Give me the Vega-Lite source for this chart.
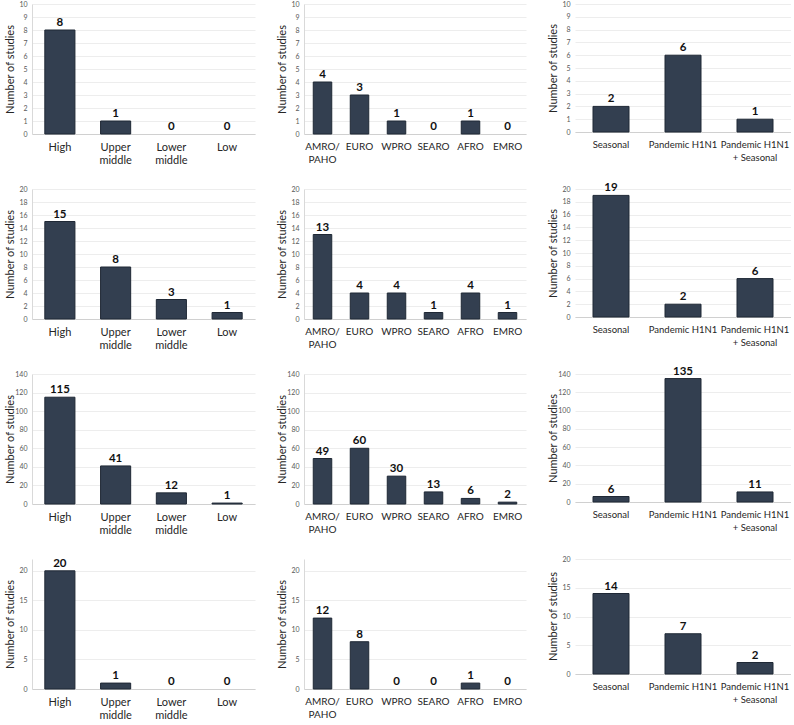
{
  "$schema": "https://vega.github.io/schema/vega-lite/v6.json",
  "background": "white",
  "padding": {"left": 3, "top": 0, "right": 0, "bottom": 0},
  "data": {"values": [
    {"row": 1, "panel": "income", "category": "High", "studies": 8},
    {"row": 1, "panel": "income", "category": "Upper middle", "studies": 1},
    {"row": 1, "panel": "income", "category": "Lower middle", "studies": 0},
    {"row": 1, "panel": "income", "category": "Low", "studies": 0},
    {"row": 1, "panel": "region", "category": "AMRO/PAHO", "studies": 4},
    {"row": 1, "panel": "region", "category": "EURO", "studies": 3},
    {"row": 1, "panel": "region", "category": "WPRO", "studies": 1},
    {"row": 1, "panel": "region", "category": "SEARO", "studies": 0},
    {"row": 1, "panel": "region", "category": "AFRO", "studies": 1},
    {"row": 1, "panel": "region", "category": "EMRO", "studies": 0},
    {"row": 1, "panel": "type", "category": "Seasonal", "studies": 2},
    {"row": 1, "panel": "type", "category": "Pandemic H1N1", "studies": 6},
    {"row": 1, "panel": "type", "category": "Pandemic H1N1 + Seasonal", "studies": 1},
    {"row": 2, "panel": "income", "category": "High", "studies": 15},
    {"row": 2, "panel": "income", "category": "Upper middle", "studies": 8},
    {"row": 2, "panel": "income", "category": "Lower middle", "studies": 3},
    {"row": 2, "panel": "income", "category": "Low", "studies": 1},
    {"row": 2, "panel": "region", "category": "AMRO/PAHO", "studies": 13},
    {"row": 2, "panel": "region", "category": "EURO", "studies": 4},
    {"row": 2, "panel": "region", "category": "WPRO", "studies": 4},
    {"row": 2, "panel": "region", "category": "SEARO", "studies": 1},
    {"row": 2, "panel": "region", "category": "AFRO", "studies": 4},
    {"row": 2, "panel": "region", "category": "EMRO", "studies": 1},
    {"row": 2, "panel": "type", "category": "Seasonal", "studies": 19},
    {"row": 2, "panel": "type", "category": "Pandemic H1N1", "studies": 2},
    {"row": 2, "panel": "type", "category": "Pandemic H1N1 + Seasonal", "studies": 6},
    {"row": 3, "panel": "income", "category": "High", "studies": 115},
    {"row": 3, "panel": "income", "category": "Upper middle", "studies": 41},
    {"row": 3, "panel": "income", "category": "Lower middle", "studies": 12},
    {"row": 3, "panel": "income", "category": "Low", "studies": 1},
    {"row": 3, "panel": "region", "category": "AMRO/PAHO", "studies": 49},
    {"row": 3, "panel": "region", "category": "EURO", "studies": 60},
    {"row": 3, "panel": "region", "category": "WPRO", "studies": 30},
    {"row": 3, "panel": "region", "category": "SEARO", "studies": 13},
    {"row": 3, "panel": "region", "category": "AFRO", "studies": 6},
    {"row": 3, "panel": "region", "category": "EMRO", "studies": 2},
    {"row": 3, "panel": "type", "category": "Seasonal", "studies": 6},
    {"row": 3, "panel": "type", "category": "Pandemic H1N1", "studies": 135},
    {"row": 3, "panel": "type", "category": "Pandemic H1N1 + Seasonal", "studies": 11},
    {"row": 4, "panel": "income", "category": "High", "studies": 20},
    {"row": 4, "panel": "income", "category": "Upper middle", "studies": 1},
    {"row": 4, "panel": "income", "category": "Lower middle", "studies": 0},
    {"row": 4, "panel": "income", "category": "Low", "studies": 0},
    {"row": 4, "panel": "region", "category": "AMRO/PAHO", "studies": 12},
    {"row": 4, "panel": "region", "category": "EURO", "studies": 8},
    {"row": 4, "panel": "region", "category": "WPRO", "studies": 0},
    {"row": 4, "panel": "region", "category": "SEARO", "studies": 0},
    {"row": 4, "panel": "region", "category": "AFRO", "studies": 1},
    {"row": 4, "panel": "region", "category": "EMRO", "studies": 0},
    {"row": 4, "panel": "type", "category": "Seasonal", "studies": 14},
    {"row": 4, "panel": "type", "category": "Pandemic H1N1", "studies": 7},
    {"row": 4, "panel": "type", "category": "Pandemic H1N1 + Seasonal", "studies": 2}
  ]},
  "columns": 3,
  "spacing": {"row": 55, "column": 49},
  "bounds": "flush",
  "concat": [
    {
      "width": 223, "height": 130,
      "transform": [{"filter": "datum.row == 1 && datum.panel == 'income'"}],
      "encoding": {
        "x": {"field": "category", "type": "nominal", "sort": null, "scale": {"paddingInner": 0.46, "paddingOuter": 0.23},
              "axis": {"labelExpr": "split(datum.label, ' ')", "labelFontSize": 11}},
        "y": {"field": "studies", "type": "quantitative", "scale": {"domain": [0, 10], "nice": false},
              "axis": {"values": [0,1,2,3,4,5,6,7,8,9,10], "title": "Number of studies", "titleX": -17, "titleY": 65}}
      },
      "layer": [
        {"mark": {"type": "bar", "fill": "#333f50", "stroke": "#1f2835", "strokeWidth": 1}, "encoding": {"strokeOpacity": {"condition": {"test": "datum.studies == 0", "value": 0}, "value": 1}}},
        {"mark": {"type": "text", "baseline": "alphabetic", "dy": -4, "fontWeight": "bold", "fontSize": 11.5, "color": "#111111"}, "encoding": {"text": {"field": "studies"}}}
      ]
    },
    {
      "width": 222, "height": 130,
      "transform": [{"filter": "datum.row == 1 && datum.panel == 'region'"}],
      "encoding": {
        "x": {"field": "category", "type": "nominal", "sort": null, "scale": {"paddingInner": 0.5, "paddingOuter": 0.25},
              "axis": {"labelExpr": "datum.label == 'AMRO/PAHO' ? ['AMRO/', 'PAHO'] : datum.label", "labelFontSize": 10}},
        "y": {"field": "studies", "type": "quantitative", "scale": {"domain": [0, 10], "nice": false},
              "axis": {"values": [0,1,2,3,4,5,6,7,8,9,10], "title": "Number of studies", "titleX": -17, "titleY": 65}}
      },
      "layer": [
        {"mark": {"type": "bar", "fill": "#333f50", "stroke": "#1f2835", "strokeWidth": 1}, "encoding": {"strokeOpacity": {"condition": {"test": "datum.studies == 0", "value": 0}, "value": 1}}},
        {"mark": {"type": "text", "baseline": "alphabetic", "dy": -4, "fontWeight": "bold", "fontSize": 11.5, "color": "#111111"}, "encoding": {"text": {"field": "studies"}}}
      ]
    },
    {
      "width": 216, "height": 128,
      "transform": [{"filter": "datum.row == 1 && datum.panel == 'type'"}],
      "encoding": {
        "x": {"field": "category", "type": "nominal", "sort": null, "scale": {"paddingInner": 0.5, "paddingOuter": 0.25},
              "axis": {"labelExpr": "datum.label == 'Pandemic H1N1 + Seasonal' ? ['Pandemic H1N1', '+ Seasonal'] : datum.label", "labelFontSize": 9.5}},
        "y": {"field": "studies", "type": "quantitative", "scale": {"domain": [0, 10], "nice": false},
              "axis": {"values": [0,1,2,3,4,5,6,7,8,9,10], "title": "Number of studies", "titleX": -17, "titleY": 64, "domain": false}}
      },
      "layer": [
        {"mark": {"type": "bar", "fill": "#333f50", "stroke": "#1f2835", "strokeWidth": 1}, "encoding": {"strokeOpacity": {"condition": {"test": "datum.studies == 0", "value": 0}, "value": 1}}},
        {"mark": {"type": "text", "baseline": "alphabetic", "dy": -4, "fontWeight": "bold", "fontSize": 11.5, "color": "#111111"}, "encoding": {"text": {"field": "studies"}}}
      ]
    },
    {
      "width": 223, "height": 130,
      "transform": [{"filter": "datum.row == 2 && datum.panel == 'income'"}],
      "encoding": {
        "x": {"field": "category", "type": "nominal", "sort": null, "scale": {"paddingInner": 0.46, "paddingOuter": 0.23},
              "axis": {"labelExpr": "split(datum.label, ' ')", "labelFontSize": 11}},
        "y": {"field": "studies", "type": "quantitative", "scale": {"domain": [0, 20], "nice": false},
              "axis": {"values": [0,2,4,6,8,10,12,14,16,18,20], "title": "Number of studies", "titleX": -17, "titleY": 65}}
      },
      "layer": [
        {"mark": {"type": "bar", "fill": "#333f50", "stroke": "#1f2835", "strokeWidth": 1}, "encoding": {"strokeOpacity": {"condition": {"test": "datum.studies == 0", "value": 0}, "value": 1}}},
        {"mark": {"type": "text", "baseline": "alphabetic", "dy": -4, "fontWeight": "bold", "fontSize": 11.5, "color": "#111111"}, "encoding": {"text": {"field": "studies"}}}
      ]
    },
    {
      "width": 222, "height": 130,
      "transform": [{"filter": "datum.row == 2 && datum.panel == 'region'"}],
      "encoding": {
        "x": {"field": "category", "type": "nominal", "sort": null, "scale": {"paddingInner": 0.5, "paddingOuter": 0.25},
              "axis": {"labelExpr": "datum.label == 'AMRO/PAHO' ? ['AMRO/', 'PAHO'] : datum.label", "labelFontSize": 10}},
        "y": {"field": "studies", "type": "quantitative", "scale": {"domain": [0, 20], "nice": false},
              "axis": {"values": [0,2,4,6,8,10,12,14,16,18,20], "title": "Number of studies", "titleX": -17, "titleY": 65}}
      },
      "layer": [
        {"mark": {"type": "bar", "fill": "#333f50", "stroke": "#1f2835", "strokeWidth": 1}, "encoding": {"strokeOpacity": {"condition": {"test": "datum.studies == 0", "value": 0}, "value": 1}}},
        {"mark": {"type": "text", "baseline": "alphabetic", "dy": -4, "fontWeight": "bold", "fontSize": 11.5, "color": "#111111"}, "encoding": {"text": {"field": "studies"}}}
      ]
    },
    {
      "width": 216, "height": 128,
      "transform": [{"filter": "datum.row == 2 && datum.panel == 'type'"}],
      "encoding": {
        "x": {"field": "category", "type": "nominal", "sort": null, "scale": {"paddingInner": 0.5, "paddingOuter": 0.25},
              "axis": {"labelExpr": "datum.label == 'Pandemic H1N1 + Seasonal' ? ['Pandemic H1N1', '+ Seasonal'] : datum.label", "labelFontSize": 9.5}},
        "y": {"field": "studies", "type": "quantitative", "scale": {"domain": [0, 20], "nice": false},
              "axis": {"values": [0,2,4,6,8,10,12,14,16,18,20], "title": "Number of studies", "titleX": -17, "titleY": 64, "domain": false}}
      },
      "layer": [
        {"mark": {"type": "bar", "fill": "#333f50", "stroke": "#1f2835", "strokeWidth": 1}, "encoding": {"strokeOpacity": {"condition": {"test": "datum.studies == 0", "value": 0}, "value": 1}}},
        {"mark": {"type": "text", "baseline": "alphabetic", "dy": -4, "fontWeight": "bold", "fontSize": 11.5, "color": "#111111"}, "encoding": {"text": {"field": "studies"}}}
      ]
    },
    {
      "width": 223, "height": 130,
      "transform": [{"filter": "datum.row == 3 && datum.panel == 'income'"}],
      "encoding": {
        "x": {"field": "category", "type": "nominal", "sort": null, "scale": {"paddingInner": 0.46, "paddingOuter": 0.23},
              "axis": {"labelExpr": "split(datum.label, ' ')", "labelFontSize": 11}},
        "y": {"field": "studies", "type": "quantitative", "scale": {"domain": [0, 140], "nice": false},
              "axis": {"values": [0,20,40,60,80,100,120,140], "title": "Number of studies", "titleX": -17, "titleY": 65}}
      },
      "layer": [
        {"mark": {"type": "bar", "fill": "#333f50", "stroke": "#1f2835", "strokeWidth": 1}, "encoding": {"strokeOpacity": {"condition": {"test": "datum.studies == 0", "value": 0}, "value": 1}}},
        {"mark": {"type": "text", "baseline": "alphabetic", "dy": -4, "fontWeight": "bold", "fontSize": 11.5, "color": "#111111"}, "encoding": {"text": {"field": "studies"}}}
      ]
    },
    {
      "width": 222, "height": 130,
      "transform": [{"filter": "datum.row == 3 && datum.panel == 'region'"}],
      "encoding": {
        "x": {"field": "category", "type": "nominal", "sort": null, "scale": {"paddingInner": 0.5, "paddingOuter": 0.25},
              "axis": {"labelExpr": "datum.label == 'AMRO/PAHO' ? ['AMRO/', 'PAHO'] : datum.label", "labelFontSize": 10}},
        "y": {"field": "studies", "type": "quantitative", "scale": {"domain": [0, 140], "nice": false},
              "axis": {"values": [0,20,40,60,80,100,120,140], "title": "Number of studies", "titleX": -17, "titleY": 65}}
      },
      "layer": [
        {"mark": {"type": "bar", "fill": "#333f50", "stroke": "#1f2835", "strokeWidth": 1}, "encoding": {"strokeOpacity": {"condition": {"test": "datum.studies == 0", "value": 0}, "value": 1}}},
        {"mark": {"type": "text", "baseline": "alphabetic", "dy": -4, "fontWeight": "bold", "fontSize": 11.5, "color": "#111111"}, "encoding": {"text": {"field": "studies"}}}
      ]
    },
    {
      "width": 216, "height": 128,
      "transform": [{"filter": "datum.row == 3 && datum.panel == 'type'"}],
      "encoding": {
        "x": {"field": "category", "type": "nominal", "sort": null, "scale": {"paddingInner": 0.5, "paddingOuter": 0.25},
              "axis": {"labelExpr": "datum.label == 'Pandemic H1N1 + Seasonal' ? ['Pandemic H1N1', '+ Seasonal'] : datum.label", "labelFontSize": 9.5}},
        "y": {"field": "studies", "type": "quantitative", "scale": {"domain": [0, 140], "nice": false},
              "axis": {"values": [0,20,40,60,80,100,120,140], "title": "Number of studies", "titleX": -17, "titleY": 64, "domain": false}}
      },
      "layer": [
        {"mark": {"type": "bar", "fill": "#333f50", "stroke": "#1f2835", "strokeWidth": 1}, "encoding": {"strokeOpacity": {"condition": {"test": "datum.studies == 0", "value": 0}, "value": 1}}},
        {"mark": {"type": "text", "baseline": "alphabetic", "dy": -4, "fontWeight": "bold", "fontSize": 11.5, "color": "#111111"}, "encoding": {"text": {"field": "studies"}}}
      ]
    },
    {
      "width": 223, "height": 130,
      "transform": [{"filter": "datum.row == 4 && datum.panel == 'income'"}],
      "encoding": {
        "x": {"field": "category", "type": "nominal", "sort": null, "scale": {"paddingInner": 0.46, "paddingOuter": 0.23},
              "axis": {"labelExpr": "split(datum.label, ' ')", "labelFontSize": 11}},
        "y": {"field": "studies", "type": "quantitative", "scale": {"domain": [0, 22], "nice": false},
              "axis": {"values": [0,5,10,15,20], "title": "Number of studies", "titleX": -17, "titleY": 65}}
      },
      "layer": [
        {"mark": {"type": "bar", "fill": "#333f50", "stroke": "#1f2835", "strokeWidth": 1}, "encoding": {"strokeOpacity": {"condition": {"test": "datum.studies == 0", "value": 0}, "value": 1}}},
        {"mark": {"type": "text", "baseline": "alphabetic", "dy": -4, "fontWeight": "bold", "fontSize": 11.5, "color": "#111111"}, "encoding": {"text": {"field": "studies"}}}
      ]
    },
    {
      "width": 222, "height": 130,
      "transform": [{"filter": "datum.row == 4 && datum.panel == 'region'"}],
      "encoding": {
        "x": {"field": "category", "type": "nominal", "sort": null, "scale": {"paddingInner": 0.5, "paddingOuter": 0.25},
              "axis": {"labelExpr": "datum.label == 'AMRO/PAHO' ? ['AMRO/', 'PAHO'] : datum.label", "labelFontSize": 10}},
        "y": {"field": "studies", "type": "quantitative", "scale": {"domain": [0, 22], "nice": false},
              "axis": {"values": [0,5,10,15,20], "title": "Number of studies", "titleX": -17, "titleY": 65}}
      },
      "layer": [
        {"mark": {"type": "bar", "fill": "#333f50", "stroke": "#1f2835", "strokeWidth": 1}, "encoding": {"strokeOpacity": {"condition": {"test": "datum.studies == 0", "value": 0}, "value": 1}}},
        {"mark": {"type": "text", "baseline": "alphabetic", "dy": -4, "fontWeight": "bold", "fontSize": 11.5, "color": "#111111"}, "encoding": {"text": {"field": "studies"}}}
      ]
    },
    {
      "width": 216, "height": 115,
      "transform": [{"filter": "datum.row == 4 && datum.panel == 'type'"}],
      "encoding": {
        "x": {"field": "category", "type": "nominal", "sort": null, "scale": {"paddingInner": 0.5, "paddingOuter": 0.25},
              "axis": {"labelExpr": "datum.label == 'Pandemic H1N1 + Seasonal' ? ['Pandemic H1N1', '+ Seasonal'] : datum.label", "labelFontSize": 9.5}},
        "y": {"field": "studies", "type": "quantitative", "scale": {"domain": [0, 20], "nice": false},
              "axis": {"values": [0,5,10,15,20], "title": "Number of studies", "titleX": -17, "titleY": 57, "domain": false}}
      },
      "layer": [
        {"mark": {"type": "bar", "fill": "#333f50", "stroke": "#1f2835", "strokeWidth": 1}, "encoding": {"strokeOpacity": {"condition": {"test": "datum.studies == 0", "value": 0}, "value": 1}}},
        {"mark": {"type": "text", "baseline": "alphabetic", "dy": -4, "fontWeight": "bold", "fontSize": 11.5, "color": "#111111"}, "encoding": {"text": {"field": "studies"}}}
      ]
    }
  ],
  "config": {
    "font": "Lato",
    "view": {"stroke": null},
    "axisX": {"title": null, "labelAngle": 0, "ticks": false, "domainColor": "#d0d0d0", "labelColor": "#262626", "labelPadding": 7, "labelLineHeight": 13, "labelBaseline": "top", "grid": false},
    "axisY": {"ticks": false, "domainColor": "#d9d9d9", "grid": true, "gridColor": "#ededed", "labelFontSize": 7, "labelColor": "#595959", "labelPadding": 5, "titleFontSize": 11, "titleFontWeight": "normal", "titleColor": "#262626"}
  }
}
